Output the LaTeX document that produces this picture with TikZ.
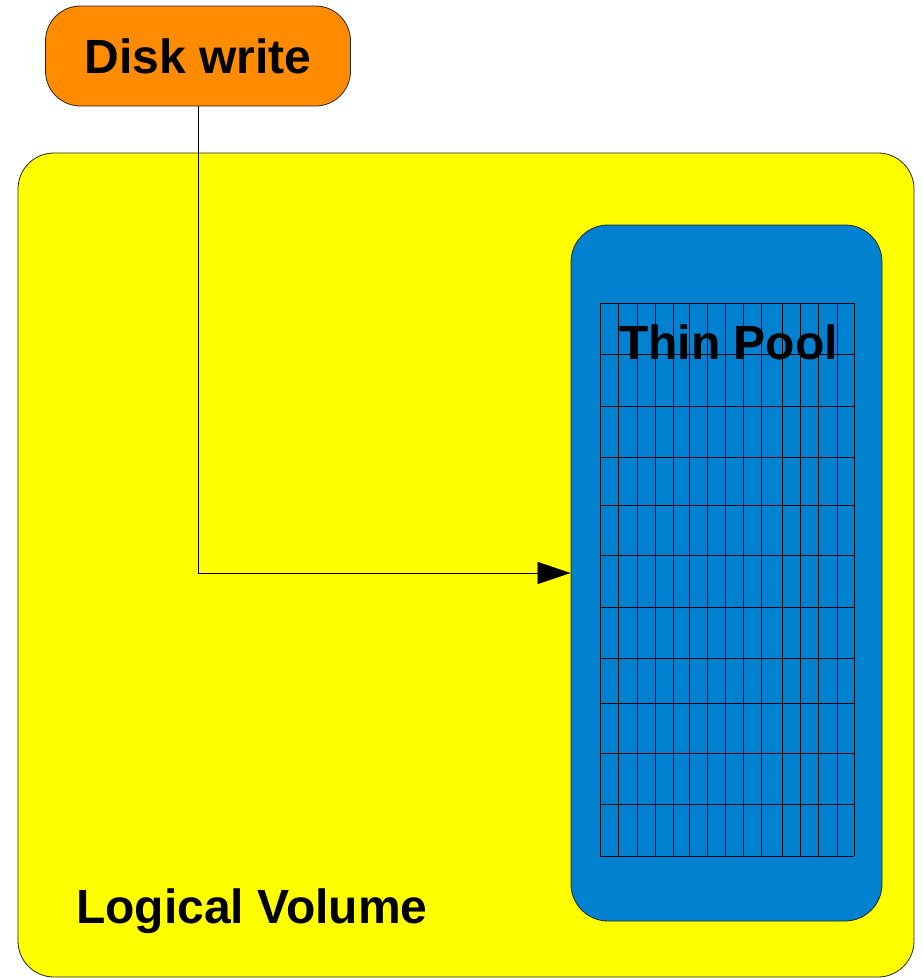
\documentclass[tikz,border=0pt]{standalone}
\usepackage{fontspec}
\setmainfont{Liberation Sans}
\usetikzlibrary{arrows.meta}
\definecolor{lvyellow}{RGB}{255,255,0}
\definecolor{poolblue}{RGB}{0,130,208}
\definecolor{writeorange}{RGB}{255,139,0}
\tikzset{
  box/.style={draw=black!85, line width=0.8pt, rounded corners=#1, inner sep=0pt},
  label text/.style={font=\fontsize{48}{57}\selectfont\bfseries, inner sep=0pt},
  gridline/.style={draw=black, line width=0.8pt},
  flow/.style={draw=black, line width=0.7pt, -{Triangle[length=33pt,width=22pt]}}
}
\begin{document}
\begin{tikzpicture}[x=1pt,y=-1pt]
  \useasboundingbox (0,0) rectangle (923,978);

  % outer logical volume
  \node[box=36pt, fill=lvyellow, minimum width=896pt, minimum height=824pt] (lv) at (466,565) {};
  \node[label text, anchor=base west] (lvlabel) at (76,923) {Logical Volume};

  % thin pool with its grid of extents
  \node[box=37pt, fill=poolblue, minimum width=311pt, minimum height=696pt] (pool) at (726.5,573) {};
  \foreach \gx in {600,618,637,655,673,689,707,725,743,761,782,800,818,837,854}
    \draw[gridline] (\gx,303) -- (\gx,856);
  \foreach \gy in {303,354,406,457,505,555,607,658,703,753,804,856}
    \draw[gridline] (600,\gy) -- (854,\gy);
  \node[label text, anchor=base] (poollabel) at (728.5,359) {Thin Pool};

  % incoming write request
  \node[box=35pt, fill=writeorange, minimum width=305pt, minimum height=100pt, label text] (disk) at (198,56) {Disk write};

  \draw[flow] (disk.south) |- (pool.west);
\end{tikzpicture}
\end{document}
